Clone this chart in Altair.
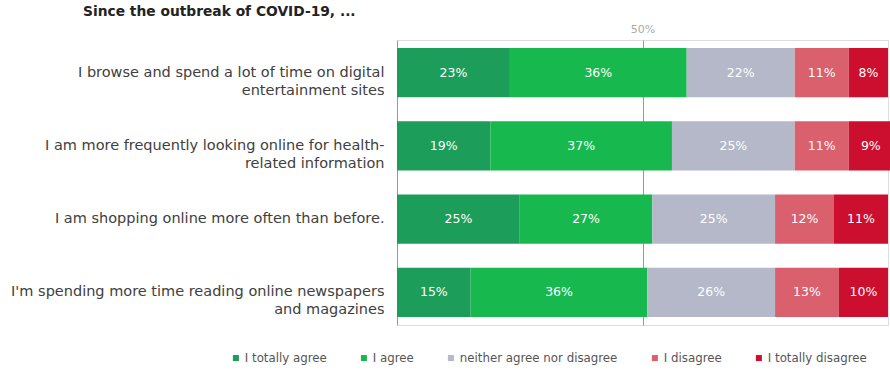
import altair as alt
import pandas as pd

questions = [
    "I browse and spend a lot of time on digital|entertainment sites",
    "I am more frequently looking online for health-|related information",
    "I am shopping online more often than before.",
    "I'm spending more time reading online newspapers|and magazines",
]
responses = ["I totally agree", "I agree", "neither agree nor disagree",
             "I disagree", "I totally disagree"]
totally_agree = [23, 19, 25, 15]
agree = [36, 37, 27, 36]
neutral = [22, 25, 25, 26]
disagree = [11, 11, 12, 13]
totally_disagree = [8, 9, 11, 10]
colors = ["#1c9e5a", "#17b94f", "#b4b8c8", "#d9606c", "#cc0f2e"]
mid_value = [50]

series = [totally_agree, agree, neutral, disagree, totally_disagree]
rows = []
for qi, q in enumerate(questions):
    for ri, r in enumerate(responses):
        rows.append({"question": q, "response": r, "order": ri,
                     "value": series[ri][qi]})
df = pd.DataFrame(rows)

FONT = "DejaVu Sans"

base = alt.Chart(df).transform_stack(
    stack="value", groupby=["question"], sort=[alt.SortField("order")],
    as_=["x0", "x1"]
).transform_calculate(mid="(datum.x0 + datum.x1) / 2",
                      lab="datum.value + '%'")

y_enc = alt.Y("question:N", sort=questions, title=None,
              scale=alt.Scale(paddingInner=0.33, paddingOuter=0.11),
              axis=alt.Axis(labelExpr="split(datum.label, '|')",
                            labelFont=FONT, labelFontSize=14.5,
                            labelColor="#404040", labelLineHeight=18,
                            labelPadding=13, ticks=False, domain=True,
                            domainColor="#999999", labelLimit=400))

xscale = alt.Scale(domain=[0, 100], nice=False)

bars = base.mark_bar(clip=False).encode(
    y=y_enc,
    x=alt.X("x0:Q", scale=xscale, title=None,
            axis=alt.Axis(orient="top", values=mid_value,
                          labelExpr="datum.value + '%'",
                          labelFont=FONT, labelFontSize=11,
                          labelColor="#aaaaaa", ticks=False, domain=False,
                          grid=True, gridColor="#999999", gridWidth=1,
                          labelPadding=6)),
    x2="x1:Q",
    color=alt.Color("response:N", sort=responses,
                    scale=alt.Scale(domain=responses, range=colors),
                    legend=alt.Legend(title=None, orient="none",
                                      direction="horizontal",
                                      legendX=-167, legendY=312,
                                      symbolType="square", symbolSize=36,
                                      symbolStrokeWidth=0,
                                      labelFont=FONT, labelFontSize=11.8,
                                      labelColor="#555555", labelLimit=300,
                                      columnPadding=31, labelOffset=3)),
)

labels = base.mark_text(font=FONT, fontSize=12.5, color="white").encode(
    y=alt.Y("question:N", sort=questions),
    x=alt.X("mid:Q", scale=xscale),
    text="lab:N",
)

chart = alt.layer(bars, labels).properties(
    width=491, height=285,
    title=alt.TitleParams("Since the outbreak of COVID-19, ...",
                          anchor="start", frame="group", dx=-314,
                          font=FONT, fontSize=13.8, fontWeight="bold",
                          color="#222222", offset=4),
    autosize=alt.AutoSizeParams(type="none"),
    padding={"left": 397, "top": 40, "right": 2, "bottom": 45},
).configure_view(stroke=None).configure(background="white")

chart.save("out.html", embed_options={"renderer": "svg", "actions": False})
